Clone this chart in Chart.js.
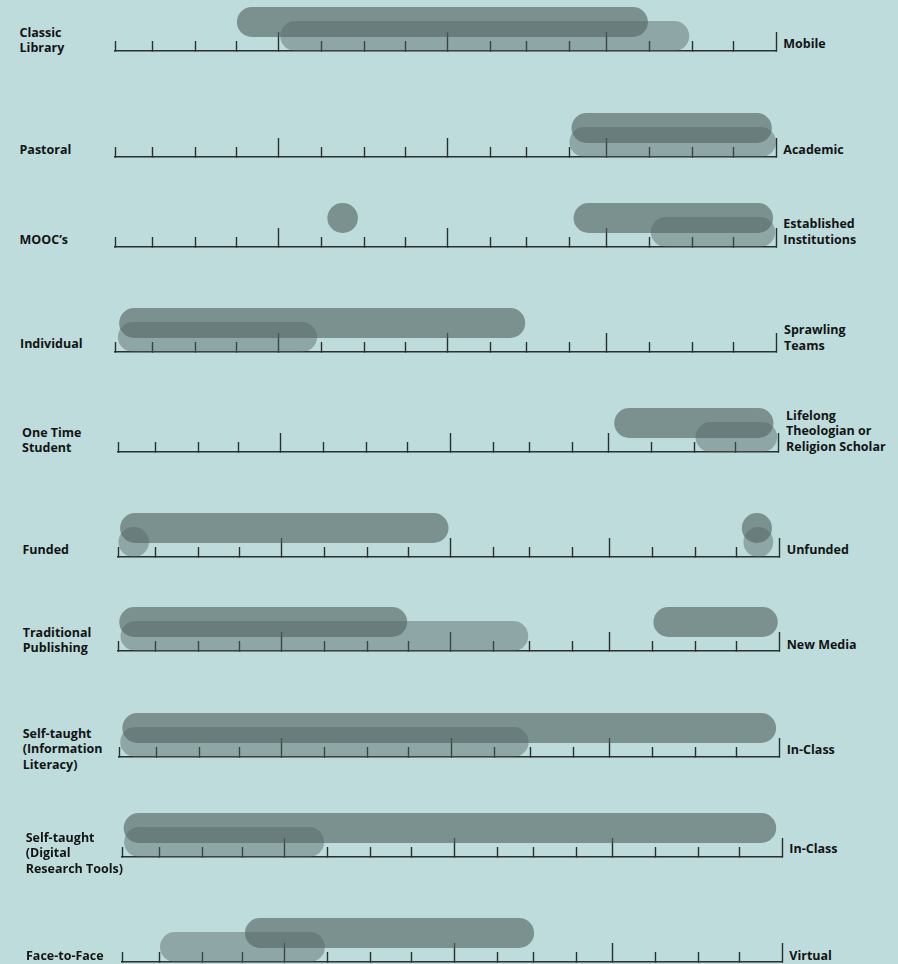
<!DOCTYPE html>
<html>
<head>
<meta charset="utf-8">
<title>Spectrum</title>
<script src="https://cdn.jsdelivr.net/npm/chart.js@4.4.1/dist/chart.umd.min.js"></script>
<style>
  html, body { margin: 0; padding: 0; }
  body { width: 898px; height: 964px; background: #bddcdb; position: relative; overflow: hidden; font-family: 'Open Sans', sans-serif; }
  canvas { position: absolute; }
  .lbl { position: absolute; font-weight: 700; font-size: 12.5px; line-height: 15.5px; color: #121414; white-space: pre; }
</style>
</head>
<body>
<script>
// each row is a spectrum from 0 (left label) to 16 (right label)
let leftLabels = ['Classic\nLibrary', 'Pastoral', 'MOOC\u2019s', 'Individual', 'One Time\nStudent', 'Funded',
    'Traditional\nPublishing', 'Self-taught\n(Information\nLiteracy)', 'Self-taught\n(Digital\nResearch Tools)', 'Face-to-Face'];
let rightLabels = ['Mobile', 'Academic', 'Established\nInstitutions', 'Sprawling\nTeams', 'Lifelong\nTheologian or\nReligion Scholar',
    'Unfunded', 'New Media', 'In-Class', 'In-Class', 'Virtual'];

// hand drawn tick marks, not quite evenly spaced
let minorTicks = [0, 0.9, 1.94, 2.93, 3.95, 4.99, 6.03, 7.02, 8.06, 9.1, 9.97, 11.01, 11.89, 12.93, 13.97, 14.96, 16];
let majorTicks = [3.95, 8.06, 11.89, 16];

// ranges on the 0-16 scale, dark (upper) and light (lower) bands
let upperBars = [
    [[2.95, 12.9]],
    [[11.05, 15.9]],
    [[5.14, 5.88], [11.1, 15.93]],
    [[0.1, 9.93]],
    [[12.03, 15.89]],
    [[0.05, 8.0], [15.1, 15.83]],
    [[0.03, 7.0], [12.96, 15.97]],
    [[0.08, 15.93]],
    [[0.04, 15.86]],
    [[2.98, 9.99]]
];
let lowerBars = [
    [[4.0, 13.9]],
    [[11.0, 16.0]],
    [[12.97, 15.98]],
    [[0.07, 4.89]],
    [[14.0, 15.98]],
    [[0.01, 0.75], [15.14, 15.86]],
    [[0.06, 9.93]],
    [[0.03, 9.93]],
    [[0.05, 4.9]],
    [[0.92, 4.92]]
];
let scaleMax = 16;

// page layout of each row (pixels)
let axisY = [51, 157, 247, 352, 452, 557, 651, 757, 857, 962];
let axisLeft = [115, 115, 115, 115, 118, 118, 118, 119, 122, 122];
let axisRight = [776, 776, 776, 776, 778, 779, 779, 779, 782, 782];
let leftX = [19.5, 19.5, 19.5, 20, 22, 22.5, 22.7, 22.7, 25.7, 26];
let leftY = [32.3, 149.3, 240, 344, 432.7, 550, 632.7, 733.3, 837.3, 955.3];
let rightX = [783.3, 783.3, 783.3, 784, 786, 786.7, 786.7, 786.7, 789.3, 789.3];
let rightY = [43.3, 149.3, 224, 330, 415.7, 550, 644.3, 750, 848.3, 955.3];

const darkColor = 'rgba(80, 98, 97, 0.61)';
const lightColor = 'rgba(80, 98, 97, 0.43)';
const inkColor = '#2a2f2f';
const lineH = 15.5;
const barH = 30, barGap = 14, areaH = 44;
const pad = 4, padTop = 2, padBottom = 3;

function addLabel(text, x, centerY) {
    let div = document.createElement('div');
    div.className = 'lbl';
    div.textContent = text;
    div.style.left = x + 'px';
    div.style.top = (centerY - lineH / 2) + 'px';
    document.body.appendChild(div);
}

for (let i = 0; i < axisY.length; i++) {
    let w = axisRight[i] - axisLeft[i];
    let canvas = document.createElement('canvas');
    canvas.width = w + 2 * pad;
    canvas.height = areaH + padTop + padBottom;
    canvas.style.left = (axisLeft[i] - pad) + 'px';
    canvas.style.top = (axisY[i] - areaH - padTop) + 'px';
    document.body.appendChild(canvas);

    let datasets = [];
    upperBars[i].forEach(r => datasets.push({ data: [r], stack: 'upper', backgroundColor: darkColor }));
    lowerBars[i].forEach(r => datasets.push({ data: [r], stack: 'lower', backgroundColor: lightColor }));

    new Chart(canvas.getContext('2d'), {
        type: 'bar',
        data: { labels: ['row'], datasets: datasets },
        options: {
            indexAxis: 'y',
            responsive: false,
            animation: false,
            events: [],
            layout: { padding: { left: pad, right: pad, top: padTop, bottom: padBottom } },
            datasets: {
                bar: {
                    borderRadius: barH / 2,
                    borderSkipped: false,
                    borderWidth: 0,
                    categoryPercentage: 2 * barGap / areaH,
                    barPercentage: barH / barGap
                }
            },
            plugins: { legend: { display: false }, tooltip: { enabled: false } },
            scales: {
                y: { display: false },
                // minor ticks point up from the axis line (negative length)
                x: {
                    type: 'linear', min: 0, max: scaleMax, stacked: false, weight: 0,
                    ticks: { display: false },
                    afterBuildTicks: s => { s.ticks = minorTicks.map(v => ({ value: v })); },
                    grid: { drawOnChartArea: false, tickLength: -10, tickColor: inkColor, tickWidth: 1.4 },
                    border: { display: true, color: inkColor, width: 1.6 }
                },
                // second axis stacks on top of the first to lengthen the major ticks
                x2: {
                    type: 'linear', axis: 'x', position: 'bottom', min: 0, max: scaleMax, weight: 1,
                    ticks: { display: false },
                    afterBuildTicks: s => { s.ticks = majorTicks.map(v => ({ value: v })); },
                    grid: { drawOnChartArea: false, tickLength: -9, tickWidth: 1.4, tickColor: inkColor },
                    border: { display: false }
                }
            }
        }
    });

    addLabel(leftLabels[i], leftX[i], leftY[i]);
    addLabel(rightLabels[i], rightX[i], rightY[i]);
}
</script>
</body>
</html>
